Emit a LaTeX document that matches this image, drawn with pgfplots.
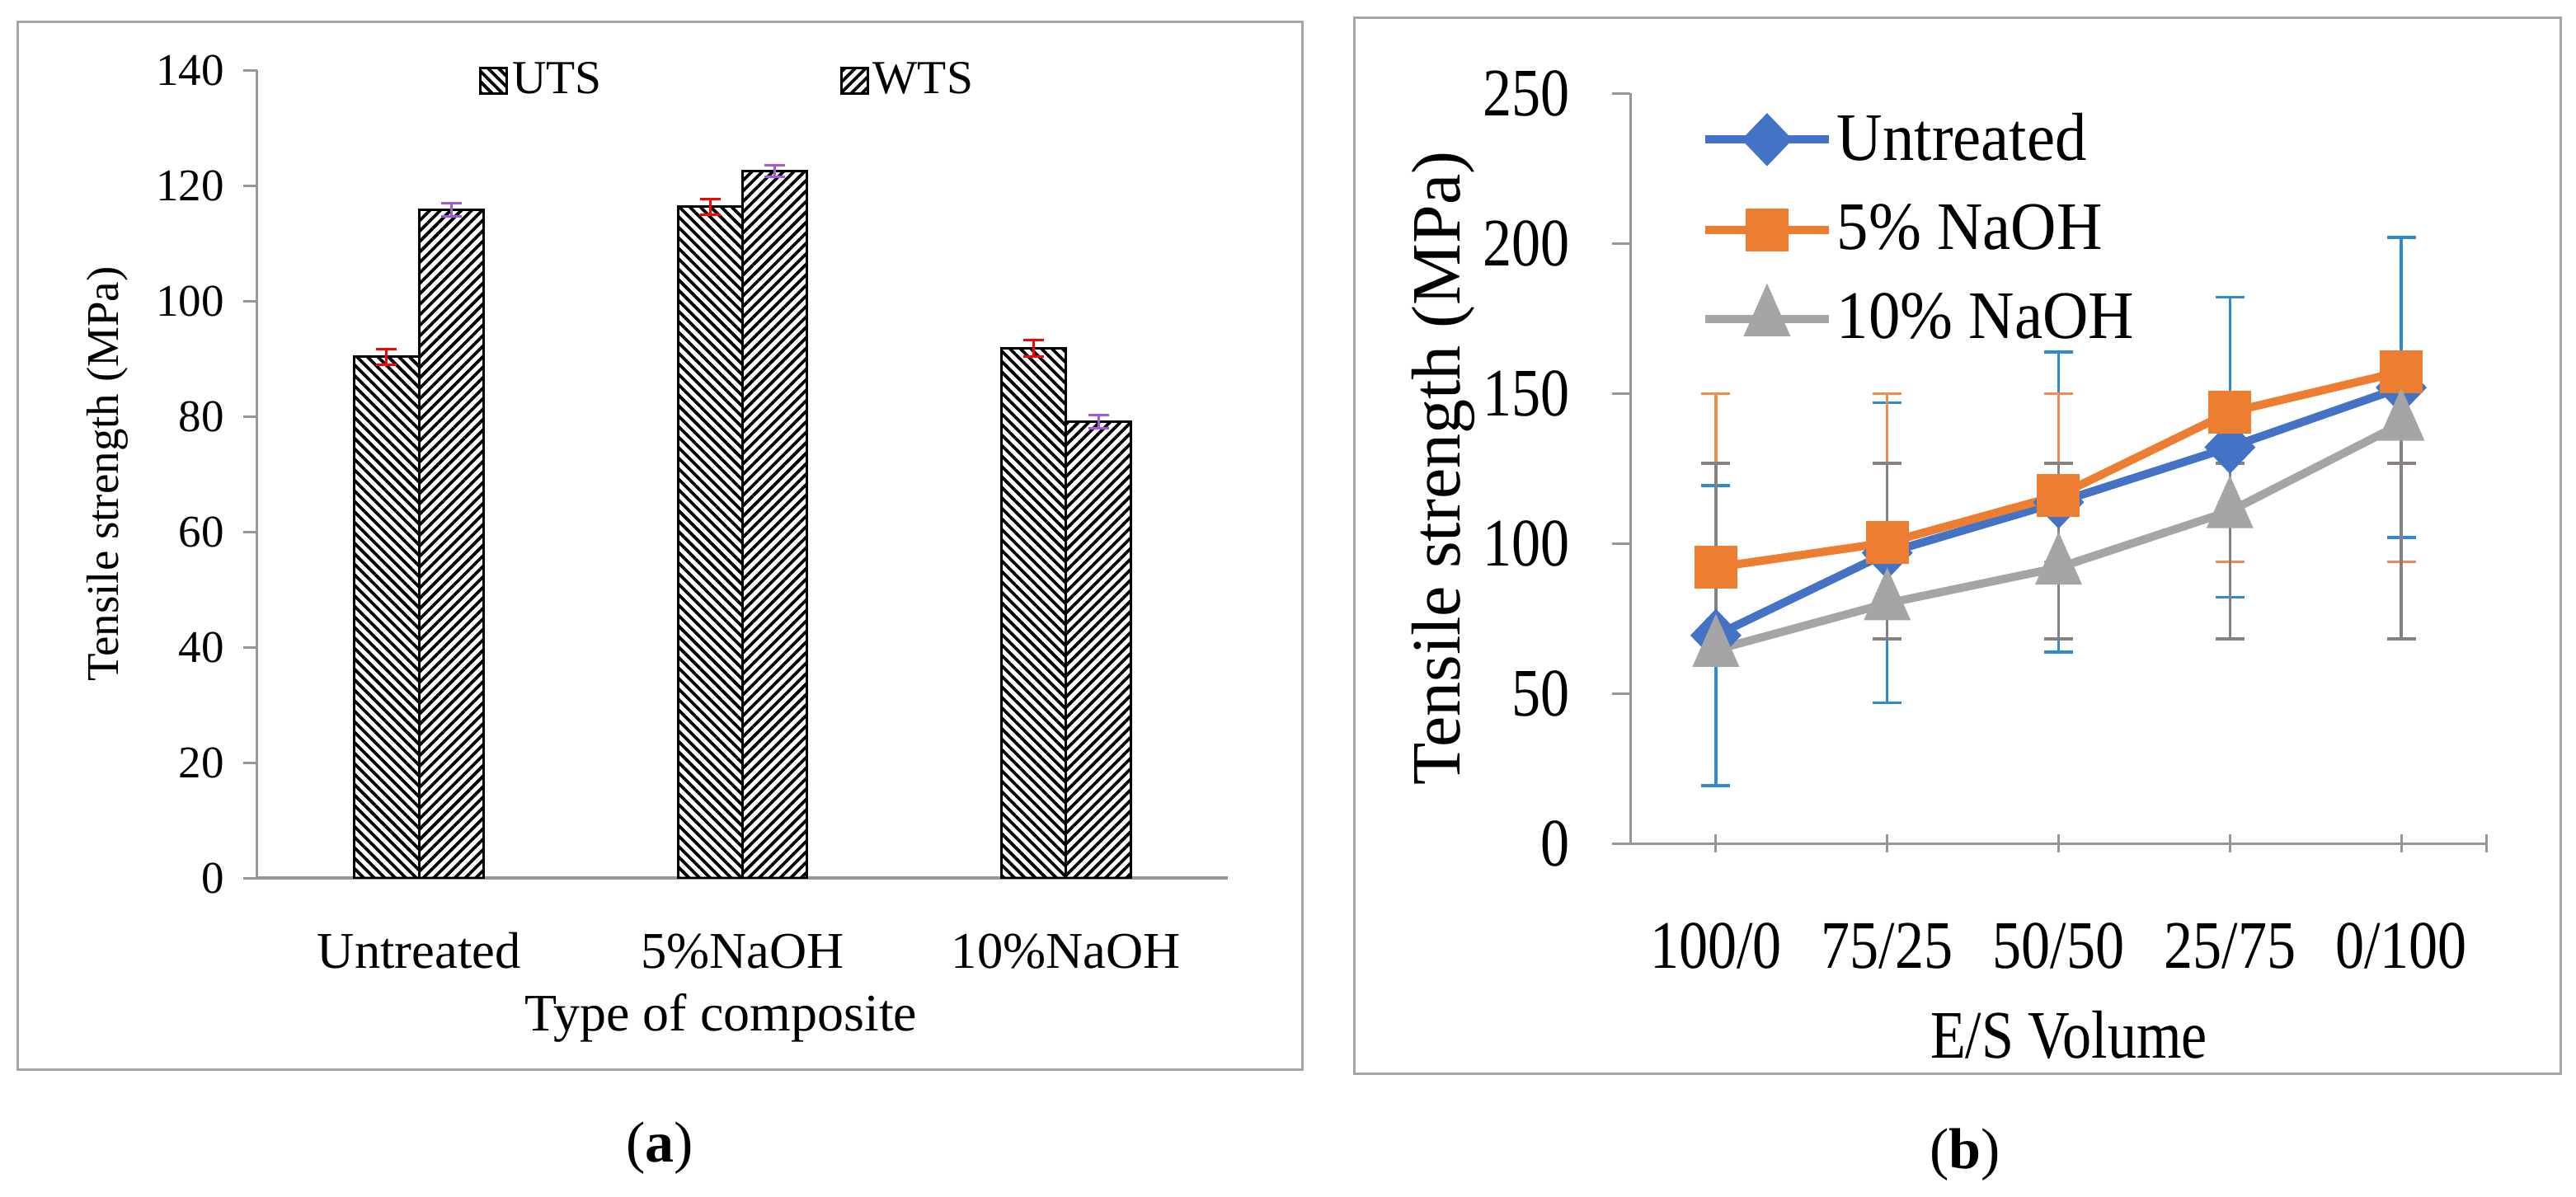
\documentclass[border=0pt]{standalone}
\usepackage{fontspec}
\setmainfont{Liberation Serif}
\newfontfamily\rfont{Liberation Serif}[FakeStretch=0.85]
\newfontfamily\lfont{Liberation Serif}[FakeStretch=0.93]
\usepackage{pgfplots}
\pgfplotsset{compat=1.18}
\usetikzlibrary{patterns.meta}

\definecolor{axgray}{RGB}{150,150,150}
\definecolor{boxgray}{RGB}{165,165,165}
\definecolor{sblue}{RGB}{68,114,196}
\definecolor{sorange}{RGB}{237,125,49}
\definecolor{sgray}{RGB}{165,165,165}
\definecolor{eblue}{RGB}{46,138,214}
\definecolor{eorange}{RGB}{240,140,80}
\definecolor{egray}{RGB}{135,128,125}
\definecolor{epurple}{RGB}{160,90,220}

\begin{document}
\begin{tikzpicture}
\path[use as bounding box] (0,0) rectangle (624.8pt,290.2pt);
% panel frames and captions
\draw[boxgray, line width=0.6pt] (4.2pt,30.8pt) rectangle (315.8pt,285pt);
\draw[boxgray, line width=0.6pt] (328.4pt,29.8pt) rectangle (621pt,286pt);
\node[font=\fontsize{14}{16}\selectfont] at (160pt,11.6pt) {(\textbf{a})};
\node[font=\fontsize{14}{16}\selectfont] at (476.6pt,10pt) {(\textbf{b})};

% (a) bar chart: UTS bars sit at x-0.1, WTS bars at x+0.1
\begin{axis}[
    scale only axis, width=235.4pt, height=196pt,
    at={(62.4pt,77.2pt)}, anchor=south west,
    bar width=0.2,
    xmin=-0.5, xmax=2.5, ymin=0, ymax=140,
    xtick={0,1,2}, xticklabels={Untreated,5\%NaOH,10\%NaOH},
    ytick={0,20,...,140},
    axis x line*=bottom, axis y line*=left,
    x axis line style={axgray, line width=0.8pt},
    y axis line style={axgray, line width=0.6pt},
    tick align=outside, major tick length=3.4pt,
    xtick style={draw=none},
    ytick style={axgray, line width=0.6pt},
    /pgf/number format/assume math mode=true,
    yticklabel style={font=\fontsize{11}{13}\selectfont, anchor=east, inner sep=0pt, xshift=-4.4pt},
    xticklabel style={font=\fontsize{12.5}{14}\selectfont, anchor=base, inner sep=0pt, yshift=-18.4pt},
    xlabel={Type of composite},
    ylabel={Tensile strength (MPa)},
    x label style={font=\fontsize{12.8}{14}\selectfont, at={(axis description cs:0.478,0)}, anchor=base, yshift=-37pt},
    y label style={font=\fontsize{11}{13}\selectfont, at={(axis description cs:-0.1546,0.5)}, anchor=center},
    legend columns=2,
    legend style={draw=none, fill=none, at={(axis description cs:0.215,0.987)}, anchor=west,
        font=\fontsize{11.5}{13}\selectfont, nodes={inner sep=1pt},
        /tikz/every even column/.append style={column sep=56.8pt}},
    legend image code/.code={\draw[#1, line width=0.6pt] (0pt,-3.1pt) rectangle (6.4pt,3.1pt);},
]
\addplot[ybar, bar shift=0, draw=black, line width=0.6pt,
    pattern={Lines[angle=-45,distance=1.8pt,line width=0.75pt]},
    error bars/.cd, y dir=both, y explicit,
    error bar style={red, line width=0.6pt},
    error mark options={rotate=90, red, line width=0.6pt, mark size=2.5pt}]
coordinates {(-0.1,90.3) +- (0,1.3) (0.9,116.3) +- (0,1.3) (1.9,91.8) +- (0,1.4)};
\addplot[ybar, bar shift=0, draw=black, line width=0.6pt,
    pattern={Lines[angle=45,distance=1.8pt,line width=0.75pt]},
    error bars/.cd, y dir=both, y explicit,
    error bar style={epurple, line width=0.6pt},
    error mark options={rotate=90, epurple, line width=0.6pt, mark size=2.5pt}]
coordinates {(0.1,115.8) +- (0,1.1) (1.1,122.5) +- (0,1.0) (2.1,79.1) +- (0,1.1)};
\legend{UTS,WTS}
\end{axis}

% (b) line chart
\begin{axis}[
    scale only axis, width=207.8pt, height=182pt,
    at={(395.4pt,85.6pt)}, anchor=south west,
    xmin=-0.5, xmax=4.5, ymin=0, ymax=250,
    xtick={0,1,2,3,4,4.5}, xticklabels={100/0,75/25,50/50,25/75,0/100,{}},
    ytick={0,50,...,250},
    axis x line*=bottom, axis y line*=left,
    axis line style={axgray, line width=0.6pt},
    xtick align=center, ytick align=outside,
    major tick length=4.4pt,
    every tick/.style={axgray, line width=0.6pt},
    /pgf/number format/assume math mode=true,
    yticklabel style={font=\rfont\fontsize{16.5}{18}\selectfont, anchor=east, inner sep=0pt, xshift=-10pt},
    xticklabel style={font=\rfont\fontsize{16.5}{18}\selectfont, anchor=base, inner sep=0pt, yshift=-28pt},
    xlabel={E/S Volume},
    ylabel={Tensile strength (MPa)},
    x label style={font=\rfont\fontsize{16.5}{18}\selectfont, at={(axis description cs:0.512,0)}, anchor=base, yshift=-52pt},
    y label style={font=\fontsize{16.8}{18}\selectfont, at={(axis description cs:-0.2185,0.5)}, anchor=center},
    legend style={draw=none, fill=none, at={(axis description cs:0.0673,0.819)}, anchor=west,
        font=\lfont\fontsize{16.5}{18}\selectfont, nodes={inner sep=1pt}, row sep=7.2pt},
    legend cell align=left,
    legend image code/.code={\draw[mark repeat=2, mark phase=2, #1] plot coordinates {(0pt,0pt) (15pt,0pt) (30pt,0pt)};},
]
% error bars first, under the lines
\addplot[forget plot, draw=none, mark=none,
    error bars/.cd, y dir=both, y explicit,
    error bar style={draw=eblue, line width=0.7pt},
    error mark options={rotate=90, draw=eblue, line width=0.7pt, mark size=3.5pt}]
coordinates {(0,69.3) +- (0,50) (1,96.8) +- (0,50) (2,113.7) +- (0,50) (3,132.0) +- (0,50) (4,151.9) +- (0,50)};
\addplot[forget plot, draw=none, mark=none,
    error bars/.cd, y dir=both, y explicit,
    error bar style={draw=eorange, line width=0.7pt},
    error mark options={rotate=90, draw=eorange, line width=0.7pt, mark size=3.5pt}]
coordinates {(0,92.0) += (0,57.8) -= (0,-1.8) (1,100.2) += (0,49.6) -= (0,6.4) (2,115.9) += (0,33.9) -= (0,22.1)
             (3,143.7) += (0,6.1) -= (0,49.9) (4,157.2) += (0,-7.4) -= (0,63.4)};
\addplot[forget plot, draw=none, mark=none,
    error bars/.cd, y dir=both, y explicit,
    error bar style={draw=egray, line width=0.7pt},
    error mark options={rotate=90, draw=egray, line width=0.7pt, mark size=3.5pt}]
coordinates {(0,64.5) += (0,62.1) -= (0,-3.7) (1,80.0) += (0,46.6) -= (0,11.8) (2,91.9) += (0,34.7) -= (0,23.7)
             (3,110.7) += (0,15.9) -= (0,42.5) (4,139.8) += (0,-13.2) -= (0,71.6)};
% series
\addplot[sblue, line width=2pt, mark=diamond*, mark size=5pt, mark options={xscale=1.28, solid}]
coordinates {(0,69.3) (1,96.8) (2,113.7) (3,132.0) (4,151.9)};
\addplot[sorange, line width=2pt, mark=square*, mark size=4.2pt, mark options={solid}]
coordinates {(0,92.0) (1,100.2) (2,115.9) (3,143.7) (4,157.2)};
\addplot[sgray, line width=2pt, mark=triangle*, mark size=4.8pt, mark options={yscale=1.3, solid}]
coordinates {(0,64.5) (1,80.0) (2,91.9) (3,110.7) (4,139.8)};
\legend{Untreated,5\% NaOH,10\% NaOH}
\end{axis}
\end{tikzpicture}
\end{document}
